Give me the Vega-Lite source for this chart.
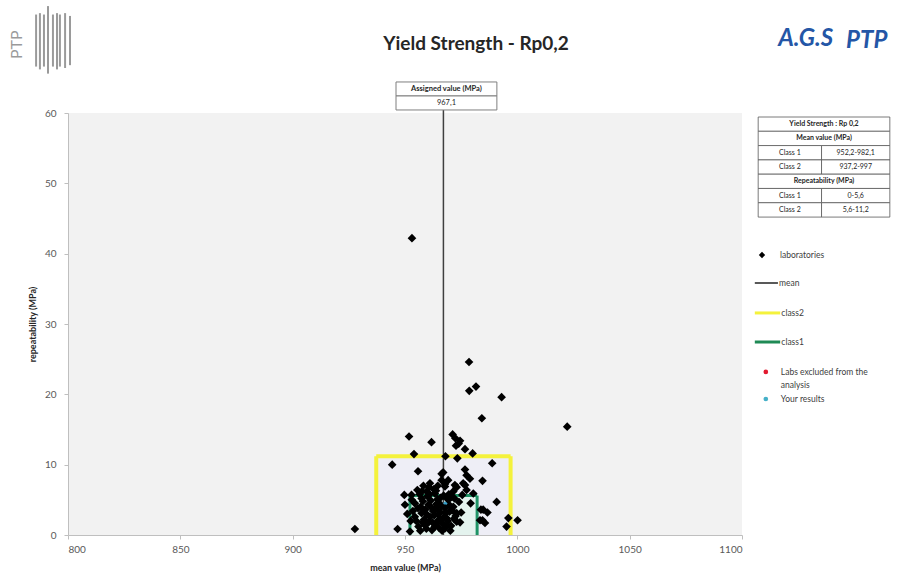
{
  "$schema": "https://vega.github.io/schema/vega-lite/v6.json",
  "autosize": {"type": "none"},
  "padding": {"left": 68, "top": 113, "right": 157, "bottom": 42},
  "width": 674,
  "height": 422,
  "background": "white",
  "config": {
    "view": {"fill": "#f2f2f2", "stroke": null},
    "font": "Lato",
    "axis": {
      "grid": false,
      "domainColor": "#bfbfbf",
      "tickColor": "#bfbfbf",
      "tickSize": 4,
      "labelColor": "#595959",
      "labelFont": "Lato",
      "labelFontSize": 10,
      "titleFont": "Lato",
      "titleFontSize": 9,
      "titleFontWeight": "bold",
      "titleColor": "#262626"
    }
  },
  "datasets": {
    "labs": [
      {"mean": 953.1, "rep": 42.2}, {"mean": 978.5, "rep": 24.6}, {"mean": 978.6, "rep": 20.5}, {"mean": 981.6, "rep": 21.1},
      {"mean": 993.0, "rep": 19.6}, {"mean": 984.2, "rep": 16.6}, {"mean": 1022.2, "rep": 15.4}, {"mean": 951.8, "rep": 14.0},
      {"mean": 961.8, "rep": 13.2}, {"mean": 971.2, "rep": 14.3}, {"mean": 972.4, "rep": 13.75}, {"mean": 974.5, "rep": 13.4},
      {"mean": 972.7, "rep": 12.7}, {"mean": 973.9, "rep": 13.0}, {"mean": 976.7, "rep": 12.2}, {"mean": 980.1, "rep": 11.6},
      {"mean": 954.0, "rep": 11.5}, {"mean": 968.0, "rep": 11.2}, {"mean": 973.3, "rep": 10.9}, {"mean": 944.3, "rep": 10.0},
      {"mean": 988.8, "rep": 10.2}, {"mean": 955.8, "rep": 9.06}, {"mean": 976.7, "rep": 9.3}, {"mean": 966.3, "rep": 8.7},
      {"mean": 967.0, "rep": 8.9}, {"mean": 977.4, "rep": 8.5}, {"mean": 984.5, "rep": 7.7}, {"mean": 978.9, "rep": 8.0},
      {"mean": 961.1, "rep": 7.35}, {"mean": 967.8, "rep": 7.25}, {"mean": 973.0, "rep": 6.8}, {"mean": 976.7, "rep": 7.1},
      {"mean": 949.7, "rep": 5.7}, {"mean": 990.8, "rep": 4.7}, {"mean": 979.2, "rep": 4.5}, {"mean": 984.8, "rep": 3.6},
      {"mean": 986.7, "rep": 3.2}, {"mean": 996.0, "rep": 2.4}, {"mean": 1000.1, "rep": 2.1}, {"mean": 995.2, "rep": 1.2},
      {"mean": 984.5, "rep": 2.1}, {"mean": 985.6, "rep": 1.7}, {"mean": 927.7, "rep": 0.85}, {"mean": 946.7, "rep": 0.85},
      {"mean": 952.2, "rep": 0.5}, {"mean": 966.3, "rep": 7.8}, {"mean": 967.8, "rep": 6.9}, {"mean": 972.2, "rep": 7.1},
      {"mean": 975.9, "rep": 7.35}, {"mean": 977.4, "rep": 6.4}, {"mean": 952.9, "rep": 5.7}, {"mean": 950.0, "rep": 4.3},
      {"mean": 954.4, "rep": 4.5}, {"mean": 957.4, "rep": 5.2}, {"mean": 959.6, "rep": 6.2}, {"mean": 963.3, "rep": 5.9},
      {"mean": 960.4, "rep": 4.3}, {"mean": 964.1, "rep": 4.0}, {"mean": 969.3, "rep": 5.0}, {"mean": 967.8, "rep": 3.8},
      {"mean": 971.5, "rep": 4.0}, {"mean": 973.0, "rep": 3.1}, {"mean": 980.4, "rep": 5.9}, {"mean": 957.4, "rep": 3.1},
      {"mean": 954.4, "rep": 2.6}, {"mean": 961.1, "rep": 2.6}, {"mean": 964.8, "rep": 2.1}, {"mean": 968.5, "rep": 2.4},
      {"mean": 973.0, "rep": 1.9}, {"mean": 958.9, "rep": 1.4}, {"mean": 963.3, "rep": 1.2}, {"mean": 967.8, "rep": 0.95},
      {"mean": 983.4, "rep": 2.1}, {"mean": 983.8, "rep": 3.6}, {"mean": 956.5, "rep": 5.8}, {"mean": 958.0, "rep": 4.8},
      {"mean": 959.0, "rep": 3.6}, {"mean": 960.0, "rep": 5.5}, {"mean": 961.5, "rep": 4.9}, {"mean": 962.5, "rep": 3.4},
      {"mean": 963.0, "rep": 2.8}, {"mean": 964.5, "rep": 5.1}, {"mean": 965.0, "rep": 4.6}, {"mean": 965.5, "rep": 3.3},
      {"mean": 966.0, "rep": 2.2}, {"mean": 966.8, "rep": 1.6}, {"mean": 967.2, "rep": 5.6}, {"mean": 968.0, "rep": 3.1},
      {"mean": 969.0, "rep": 2.0}, {"mean": 969.5, "rep": 5.8}, {"mean": 970.0, "rep": 4.2}, {"mean": 970.5, "rep": 1.3},
      {"mean": 971.0, "rep": 3.5}, {"mean": 972.0, "rep": 5.2}, {"mean": 972.5, "rep": 2.7}, {"mean": 974.0, "rep": 4.7},
      {"mean": 974.5, "rep": 1.8}, {"mean": 975.0, "rep": 3.2}, {"mean": 975.5, "rep": 5.7}, {"mean": 953.5, "rep": 3.4},
      {"mean": 955.0, "rep": 2.0}, {"mean": 956.0, "rep": 1.2}, {"mean": 957.0, "rep": 4.0}, {"mean": 958.5, "rep": 2.2},
      {"mean": 959.5, "rep": 0.9}, {"mean": 960.5, "rep": 1.8}, {"mean": 961.8, "rep": 3.9}, {"mean": 962.0, "rep": 0.7},
      {"mean": 963.8, "rep": 1.6}, {"mean": 964.0, "rep": 4.4}, {"mean": 966.5, "rep": 0.6}, {"mean": 968.5, "rep": 5.3},
      {"mean": 957.5, "rep": 6.2}, {"mean": 951.0, "rep": 3.0}, {"mean": 953.0, "rep": 5.0}, {"mean": 955.5, "rep": 6.4},
      {"mean": 962.8, "rep": 6.5}, {"mean": 958.2, "rep": 7.0}, {"mean": 971.5, "rep": 6.2}, {"mean": 964.6, "rep": 7.0},
      {"mean": 969.2, "rep": 7.8}, {"mean": 955.8, "rep": 3.8}, {"mean": 957.8, "rep": 1.8}, {"mean": 959.8, "rep": 2.9},
      {"mean": 961.0, "rep": 5.8}, {"mean": 962.2, "rep": 1.8}, {"mean": 963.5, "rep": 3.7}, {"mean": 964.8, "rep": 2.9},
      {"mean": 965.8, "rep": 5.3}, {"mean": 966.2, "rep": 4.1}, {"mean": 967.5, "rep": 2.6}, {"mean": 968.8, "rep": 1.4},
      {"mean": 969.8, "rep": 3.3}, {"mean": 970.8, "rep": 5.4}, {"mean": 971.8, "rep": 2.3}, {"mean": 960.8, "rep": 6.8},
      {"mean": 963.8, "rep": 6.3}, {"mean": 952.5, "rep": 2.0}, {"mean": 956.8, "rep": 0.6}, {"mean": 965.2, "rep": 1.0},
      {"mean": 970.2, "rep": 0.6}
    ],
    "you": [{"mean": 968.5, "rep": 4.3}],
    "zones": [
      {"cls": "class2", "x": 937.2, "x2": 997.0, "y": 0, "y2": 11.2},
      {"cls": "class1", "x": 952.2, "x2": 982.1, "y": 0, "y2": 5.6}
    ],
    "edges": [
      {"cls": "class2", "x": 937.2, "x2": 937.2, "y": 0, "y2": 11.2},
      {"cls": "class2", "x": 937.2, "x2": 997.0, "y": 11.2, "y2": 11.2},
      {"cls": "class2", "x": 997.0, "x2": 997.0, "y": 0, "y2": 11.2},
      {"cls": "class1", "x": 952.2, "x2": 952.2, "y": 0, "y2": 5.6},
      {"cls": "class1", "x": 952.2, "x2": 982.1, "y": 5.6, "y2": 5.6},
      {"cls": "class1", "x": 982.1, "x2": 982.1, "y": 0, "y2": 5.6}
    ],
    "meanline": [{"x": 967.1, "y": 0, "y2": 60.43}],
    "assigned": [
      {"x": 946.0, "x2": 990.9, "y": 62.42, "y2": 64.41, "tx": 968.45, "ty": 63.42, "label": "Assigned value (MPa)", "bold": true},
      {"x": 946.0, "x2": 990.9, "y": 60.43, "y2": 62.42, "tx": 968.45, "ty": 61.43, "label": "967,1", "bold": false}
    ],
    "table": [
      {"x": 1107.2, "x2": 1165.8, "y": 57.40, "y2": 59.43, "tx": 1136.5, "ty": 58.42, "label": "Yield Strength : Rp 0,2", "bold": true},
      {"x": 1107.2, "x2": 1165.8, "y": 55.37, "y2": 57.40, "tx": 1136.5, "ty": 56.39, "label": "Mean value (MPa)", "bold": true},
      {"x": 1107.2, "x2": 1135.4, "y": 53.33, "y2": 55.37, "tx": 1121.3, "ty": 54.35, "label": "Class 1", "bold": false},
      {"x": 1135.4, "x2": 1165.8, "y": 53.33, "y2": 55.37, "tx": 1150.6, "ty": 54.35, "label": "952,2-982,1", "bold": false},
      {"x": 1107.2, "x2": 1135.4, "y": 51.30, "y2": 53.33, "tx": 1121.3, "ty": 52.32, "label": "Class 2", "bold": false},
      {"x": 1135.4, "x2": 1165.8, "y": 51.30, "y2": 53.33, "tx": 1150.6, "ty": 52.32, "label": "937,2-997", "bold": false},
      {"x": 1107.2, "x2": 1165.8, "y": 49.27, "y2": 51.30, "tx": 1136.5, "ty": 50.29, "label": "Repeatability (MPa)", "bold": true},
      {"x": 1107.2, "x2": 1135.4, "y": 47.24, "y2": 49.27, "tx": 1121.3, "ty": 48.26, "label": "Class 1", "bold": false},
      {"x": 1135.4, "x2": 1165.8, "y": 47.24, "y2": 49.27, "tx": 1150.6, "ty": 48.26, "label": "0-5,6", "bold": false},
      {"x": 1107.2, "x2": 1135.4, "y": 45.20, "y2": 47.24, "tx": 1121.3, "ty": 46.22, "label": "Class 2", "bold": false},
      {"x": 1135.4, "x2": 1165.8, "y": 45.20, "y2": 47.24, "tx": 1150.6, "ty": 46.22, "label": "5,6-11,2", "bold": false}
    ],
    "legendlines": [
      {"cls": "mean", "x": 1105.7, "x2": 1116.0, "y": 35.83},
      {"cls": "class2", "x": 1105.7, "x2": 1117.0, "y": 31.57},
      {"cls": "class1", "x": 1105.7, "x2": 1117.0, "y": 27.44}
    ],
    "legendsym": [
      {"cls": "laboratories", "x": 1108.9, "y": 39.81},
      {"cls": "excluded", "x": 1110.6, "y": 23.18},
      {"cls": "yours", "x": 1110.6, "y": 19.34}
    ],
    "legendtext": [
      {"x": 1116.9, "y": 39.81, "label": "laboratories"},
      {"x": 1116.5, "y": 35.83, "label": "mean"},
      {"x": 1117.5, "y": 31.57, "label": "class2"},
      {"x": 1117.5, "y": 27.44, "label": "class1"},
      {"x": 1117.3, "y": 23.18, "label": "Labs excluded from the"},
      {"x": 1117.3, "y": 21.33, "label": "analysis"},
      {"x": 1117.3, "y": 19.34, "label": "Your results"}
    ],
    "title": [{"x": 981.6, "y": 69.8, "label": "Yield Strength - Rp0,2"}],
    "ptpbars": [
      {"x": 785.8, "y": 66.6, "y2": 74.0}, {"x": 787.5, "y": 66.2, "y2": 74.2}, {"x": 789.3, "y": 66.6, "y2": 74.0},
      {"x": 791.1, "y": 65.6, "y2": 75.2}, {"x": 793.3, "y": 66.6, "y2": 74.0}, {"x": 795.1, "y": 66.2, "y2": 74.2},
      {"x": 796.4, "y": 66.6, "y2": 74.0}, {"x": 798.7, "y": 66.4, "y2": 74.2}, {"x": 800.9, "y": 66.8, "y2": 73.8}
    ],
    "ptptext": [{"x": 777.3, "y": 69.7, "label": "PTP"}],
    "ags": [
      {"x": 1128.3, "y": 70.5, "label": "A.G.S"},
      {"x": 1155.5, "y": 70.3, "label": "PTP"}
    ]
  },
  "layer": [
    {
      "data": {"name": "zones"},
      "transform": [{"filter": "datum.cls === 'class2'"}],
      "mark": {"type": "rect", "strokeWidth": 0, "fill": "#eeeef6"},
      "encoding": {
        "x": {"field": "x", "type": "quantitative", "scale": {"domain": [800, 1100], "nice": false, "zero": false},
              "axis": {"values": [800, 850, 900, 950, 1000, 1050, 1100], "format": "d", "title": "mean value (MPa)", "labelPadding": 5, "titlePadding": 9}},
        "x2": {"field": "x2"},
        "y": {"field": "y", "type": "quantitative", "scale": {"domain": [0, 60], "nice": false},
              "axis": {"values": [0, 10, 20, 30, 40, 50, 60], "title": "repeatability (MPa)", "labelPadding": 8, "titlePadding": 7}},
        "y2": {"field": "y2"}
      }
    },
    {
      "data": {"name": "zones"},
      "transform": [{"filter": "datum.cls === 'class1'"}],
      "mark": {"type": "rect", "strokeWidth": 0, "fill": "#e4f3ee"},
      "encoding": {
        "x": {"field": "x", "type": "quantitative"},
        "x2": {"field": "x2"},
        "y": {"field": "y", "type": "quantitative"},
        "y2": {"field": "y2"}
      }
    },
    {
      "data": {"name": "meanline"},
      "mark": {"type": "rule", "color": "#404040", "strokeWidth": 1.5, "clip": false},
      "encoding": {
        "x": {"field": "x", "type": "quantitative"},
        "y": {"field": "y", "type": "quantitative"},
        "y2": {"field": "y2"}
      }
    },
    {
      "data": {"name": "edges"},
      "transform": [{"filter": "datum.cls === 'class2'"}],
      "mark": {"type": "rule", "color": "#f4f23c", "strokeWidth": 4},
      "encoding": {
        "x": {"field": "x", "type": "quantitative"},
        "x2": {"field": "x2"},
        "y": {"field": "y", "type": "quantitative"},
        "y2": {"field": "y2"}
      }
    },
    {
      "data": {"name": "edges"},
      "transform": [{"filter": "datum.cls === 'class1'"}],
      "mark": {"type": "rule", "color": "#1f9466", "strokeWidth": 3},
      "encoding": {
        "x": {"field": "x", "type": "quantitative"},
        "x2": {"field": "x2"},
        "y": {"field": "y", "type": "quantitative"},
        "y2": {"field": "y2"}
      }
    },
    {
      "data": {"name": "you"},
      "mark": {"type": "point", "shape": "circle", "filled": true, "color": "#3aa0c8", "size": 50, "opacity": 1},
      "encoding": {
        "x": {"field": "mean", "type": "quantitative"},
        "y": {"field": "rep", "type": "quantitative"}
      }
    },
    {
      "data": {"name": "labs"},
      "mark": {"type": "point", "shape": "diamond", "filled": true, "color": "#000000", "size": 75, "opacity": 1},
      "encoding": {
        "x": {"field": "mean", "type": "quantitative"},
        "y": {"field": "rep", "type": "quantitative"}
      }
    },
    {
      "data": {"name": "assigned"},
      "mark": {"type": "rect", "fill": "white", "stroke": "#7f7f7f", "strokeWidth": 1, "clip": false},
      "encoding": {
        "x": {"field": "x", "type": "quantitative"},
        "x2": {"field": "x2"},
        "y": {"field": "y", "type": "quantitative"},
        "y2": {"field": "y2"}
      }
    },
    {
      "data": {"name": "assigned"},
      "transform": [{"filter": "datum.bold"}],
      "mark": {"type": "text", "fontSize": 7.5, "fontWeight": "bold", "color": "#262626", "align": "center", "baseline": "middle", "clip": false},
      "encoding": {
        "x": {"field": "tx", "type": "quantitative"},
        "y": {"field": "ty", "type": "quantitative"},
        "text": {"field": "label"}
      }
    },
    {
      "data": {"name": "assigned"},
      "transform": [{"filter": "!datum.bold"}],
      "mark": {"type": "text", "fontSize": 7.5, "color": "#262626", "align": "center", "baseline": "middle", "clip": false},
      "encoding": {
        "x": {"field": "tx", "type": "quantitative"},
        "y": {"field": "ty", "type": "quantitative"},
        "text": {"field": "label"}
      }
    },
    {
      "data": {"name": "table"},
      "mark": {"type": "rect", "fill": "white", "stroke": "#595959", "strokeWidth": 0.8, "clip": false},
      "encoding": {
        "x": {"field": "x", "type": "quantitative"},
        "x2": {"field": "x2"},
        "y": {"field": "y", "type": "quantitative"},
        "y2": {"field": "y2"}
      }
    },
    {
      "data": {"name": "table"},
      "transform": [{"filter": "datum.bold"}],
      "mark": {"type": "text", "fontSize": 7, "fontWeight": "bold", "color": "#262626", "align": "center", "baseline": "middle", "clip": false},
      "encoding": {
        "x": {"field": "tx", "type": "quantitative"},
        "y": {"field": "ty", "type": "quantitative"},
        "text": {"field": "label"}
      }
    },
    {
      "data": {"name": "table"},
      "transform": [{"filter": "!datum.bold"}],
      "mark": {"type": "text", "fontSize": 7, "color": "#262626", "align": "center", "baseline": "middle", "clip": false},
      "encoding": {
        "x": {"field": "tx", "type": "quantitative"},
        "y": {"field": "ty", "type": "quantitative"},
        "text": {"field": "label"}
      }
    },
    {
      "data": {"name": "legendlines"},
      "transform": [{"filter": "datum.cls === 'mean'"}],
      "mark": {"type": "rule", "clip": false, "strokeWidth": 2, "color": "#595959"},
      "encoding": {
        "x": {"field": "x", "type": "quantitative"},
        "x2": {"field": "x2"},
        "y": {"field": "y", "type": "quantitative"}
      }
    },
    {
      "data": {"name": "legendlines"},
      "transform": [{"filter": "datum.cls === 'class2'"}],
      "mark": {"type": "rule", "clip": false, "strokeWidth": 3, "color": "#f4f23c"},
      "encoding": {
        "x": {"field": "x", "type": "quantitative"},
        "x2": {"field": "x2"},
        "y": {"field": "y", "type": "quantitative"}
      }
    },
    {
      "data": {"name": "legendlines"},
      "transform": [{"filter": "datum.cls === 'class1'"}],
      "mark": {"type": "rule", "clip": false, "strokeWidth": 3, "color": "#1f8a55"},
      "encoding": {
        "x": {"field": "x", "type": "quantitative"},
        "x2": {"field": "x2"},
        "y": {"field": "y", "type": "quantitative"}
      }
    },
    {
      "data": {"name": "legendsym"},
      "transform": [{"filter": "datum.cls === 'laboratories'"}],
      "mark": {"type": "point", "shape": "diamond", "filled": true, "color": "#000000", "size": 40, "opacity": 1, "clip": false},
      "encoding": {
        "x": {"field": "x", "type": "quantitative"},
        "y": {"field": "y", "type": "quantitative"}
      }
    },
    {
      "data": {"name": "legendsym"},
      "transform": [{"filter": "datum.cls === 'excluded'"}],
      "mark": {"type": "point", "shape": "circle", "filled": true, "size": 22, "opacity": 1, "color": "#e2192f", "clip": false},
      "encoding": {
        "x": {"field": "x", "type": "quantitative"},
        "y": {"field": "y", "type": "quantitative"}
      }
    },
    {
      "data": {"name": "legendsym"},
      "transform": [{"filter": "datum.cls === 'yours'"}],
      "mark": {"type": "point", "shape": "circle", "filled": true, "size": 22, "opacity": 1, "color": "#45b0c8", "clip": false},
      "encoding": {
        "x": {"field": "x", "type": "quantitative"},
        "y": {"field": "y", "type": "quantitative"}
      }
    },
    {
      "data": {"name": "legendtext"},
      "mark": {"type": "text", "fontSize": 8.5, "color": "#404040", "align": "left", "baseline": "middle", "clip": false},
      "encoding": {
        "x": {"field": "x", "type": "quantitative"},
        "y": {"field": "y", "type": "quantitative"},
        "text": {"field": "label"}
      }
    },
    {
      "data": {"name": "title"},
      "mark": {"type": "text", "fontSize": 19, "fontWeight": "bold", "color": "#262626", "align": "center", "baseline": "middle", "clip": false},
      "encoding": {
        "x": {"field": "x", "type": "quantitative"},
        "y": {"field": "y", "type": "quantitative"},
        "text": {"field": "label"}
      }
    },
    {
      "data": {"name": "ptpbars"},
      "mark": {"type": "rule", "color": "#9a9a9a", "strokeWidth": 2, "clip": false},
      "encoding": {
        "x": {"field": "x", "type": "quantitative"},
        "y": {"field": "y", "type": "quantitative"},
        "y2": {"field": "y2"}
      }
    },
    {
      "data": {"name": "ptptext"},
      "mark": {"type": "text", "fontSize": 16, "color": "#9a9a9a", "angle": 270, "align": "center", "baseline": "middle", "clip": false},
      "encoding": {
        "x": {"field": "x", "type": "quantitative"},
        "y": {"field": "y", "type": "quantitative"},
        "text": {"field": "label"}
      }
    },
    {
      "data": {"name": "ags"},
      "mark": {"type": "text", "fontSize": 24, "fontWeight": "bold", "fontStyle": "italic", "color": "#2456a6", "align": "center", "baseline": "middle", "clip": false},
      "encoding": {
        "x": {"field": "x", "type": "quantitative"},
        "y": {"field": "y", "type": "quantitative"},
        "text": {"field": "label"}
      }
    }
  ]
}
